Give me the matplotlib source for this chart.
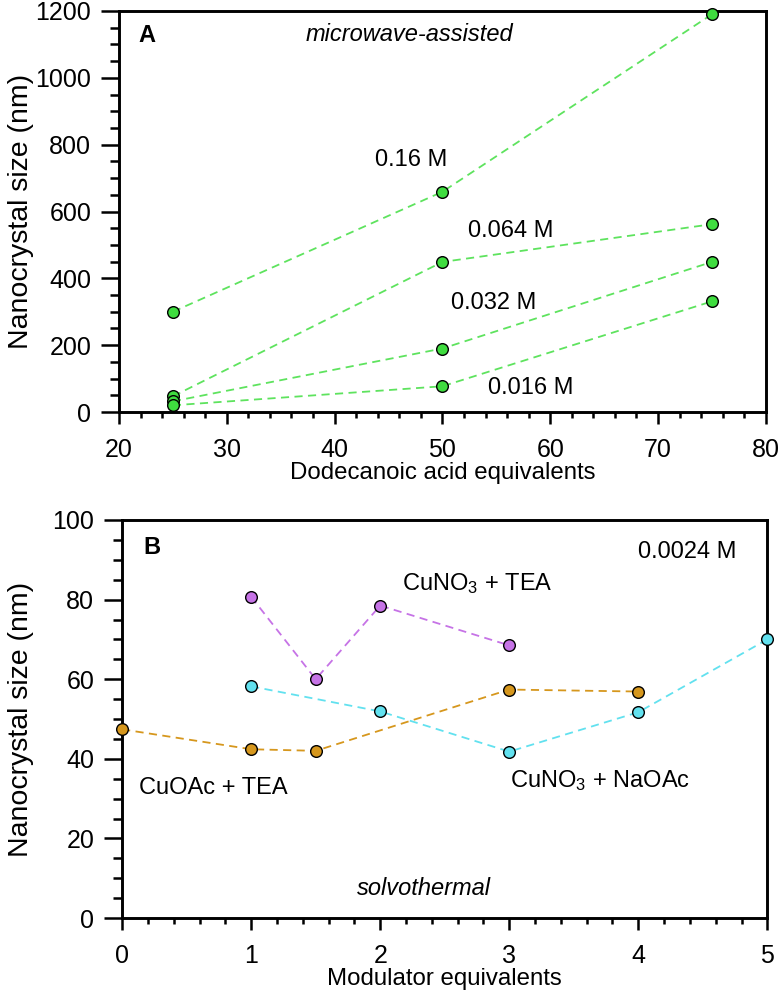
import matplotlib
matplotlib.use("Agg")
import matplotlib.pyplot as plt
from matplotlib.ticker import MultipleLocator

plt.rcParams["font.family"] = ["Liberation Sans", "DejaVu Sans"]
plt.rcParams["mathtext.fontset"] = "custom"
plt.rcParams["mathtext.rm"] = "Liberation Sans"
plt.rcParams["mathtext.default"] = "regular"

# panel A: microwave-assisted, size vs dodecanoic acid equivalents
acid_eq = [25, 50, 75]
size_016 = [300, 659, 1190]
size_0064 = [47, 449, 562]
size_0032 = [32, 190, 449]
size_0016 = [20, 77, 331]

# panel B: solvothermal, size vs modulator equivalents
mod_cuoac_tea = [0, 1, 1.5, 3, 4]
size_cuoac_tea = [47.4, 42.4, 42.0, 57.4, 56.9]
mod_cuno3_tea = [1, 1.5, 2, 3]
size_cuno3_tea = [80.7, 60.0, 78.5, 68.5]
mod_cuno3_naoac = [1, 2, 3, 4, 5]
size_cuno3_naoac = [58.2, 51.9, 41.8, 51.7, 70.0]

GREEN_LINE = "#5ee35e"
GREEN_MK = "#3fdc3f"
ORANGE = "#d6971d"
PURPLE = "#c673e6"
CYAN = "#62e1ef"

TXT = 17

fig = plt.figure(figsize=(7.83, 10), dpi=100)
axA = fig.add_axes([0.152, 0.588, 0.826, 0.401])
axB = fig.add_axes([0.156, 0.082, 0.824, 0.398])


def series(ax, x, y, line_color, face):
    ax.plot(x, y, linestyle=(0, (4.5, 3)), color=line_color, lw=1.3, zorder=2)
    ax.plot(x, y, linestyle="none", marker="o", ms=8.4, mfc=face,
            mec="black", mew=1.0, zorder=3, clip_on=False)


def style(ax):
    for s in ax.spines.values():
        s.set_linewidth(2.1)
    ax.tick_params(axis="y", which="major", length=13, width=1.8, pad=7, labelsize=18)
    ax.tick_params(axis="y", which="minor", length=6.5, width=1.8)
    ax.tick_params(axis="x", which="major", length=8.4, width=1.8, pad=10, labelsize=18)
    ax.tick_params(axis="x", which="minor", length=4.5, width=1.8)


# ---- A ----
for ys in (size_016, size_0064, size_0032, size_0016):
    series(axA, acid_eq, ys, GREEN_LINE, GREEN_MK)
axA.set_xlim(20, 80)
axA.set_ylim(0, 1200)
axA.xaxis.set_major_locator(MultipleLocator(10))
axA.xaxis.set_minor_locator(MultipleLocator(2))
axA.yaxis.set_major_locator(MultipleLocator(200))
axA.yaxis.set_minor_locator(MultipleLocator(50))
style(axA)
axA.set_xlabel("Dodecanoic acid equivalents", fontsize=17.3, labelpad=0)
axA.set_ylabel("Nanocrystal size (nm)", fontsize=20.5)
axA.yaxis.set_label_coords(-0.131, 0.5)

axA.text(22.6, 1128, "A", fontsize=TXT, fontweight="bold", ha="center", va="center")
axA.text(46.9, 1130, "microwave-assisted", fontsize=TXT, style="italic", ha="center", va="center")
axA.text(47.1, 755, "0.16 M", fontsize=TXT, ha="center", va="center")
axA.text(56.3, 542, "0.064 M", fontsize=TXT, ha="center", va="center")
axA.text(54.8, 326, "0.032 M", fontsize=TXT, ha="center", va="center")
axA.text(58.2, 73, "0.016 M", fontsize=TXT, ha="center", va="center")

# ---- B ----
series(axB, mod_cuno3_tea, size_cuno3_tea, PURPLE, PURPLE)
series(axB, mod_cuno3_naoac, size_cuno3_naoac, CYAN, CYAN)
series(axB, mod_cuoac_tea, size_cuoac_tea, ORANGE, ORANGE)
axB.set_xlim(0, 5)
axB.set_ylim(0, 100)
axB.xaxis.set_major_locator(MultipleLocator(1))
axB.xaxis.set_minor_locator(MultipleLocator(0.2))
axB.yaxis.set_major_locator(MultipleLocator(20))
axB.yaxis.set_minor_locator(MultipleLocator(5))
style(axB)
axB.set_xlabel("Modulator equivalents", fontsize=17.3, labelpad=0)
axB.set_ylabel("Nanocrystal size (nm)", fontsize=20.5)
axB.yaxis.set_label_coords(-0.136, 0.5)

axB.text(0.23, 93.2, "B", fontsize=TXT, fontweight="bold", ha="center", va="center")
axB.text(4.38, 91.9, "0.0024 M", fontsize=TXT, ha="center", va="center")
axB.text(2.75, 84.0, "CuNO$_3$ + TEA", fontsize=TXT, ha="center", va="center")
axB.text(0.71, 32.6, "CuOAc + TEA", fontsize=TXT, ha="center", va="center")
axB.text(3.7, 34.5, "CuNO$_3$ + NaOAc", fontsize=TXT, ha="center", va="center")
axB.text(2.34, 7.3, "solvothermal", fontsize=TXT, style="italic", ha="center", va="center")

fig.savefig("out.png", dpi=100)
